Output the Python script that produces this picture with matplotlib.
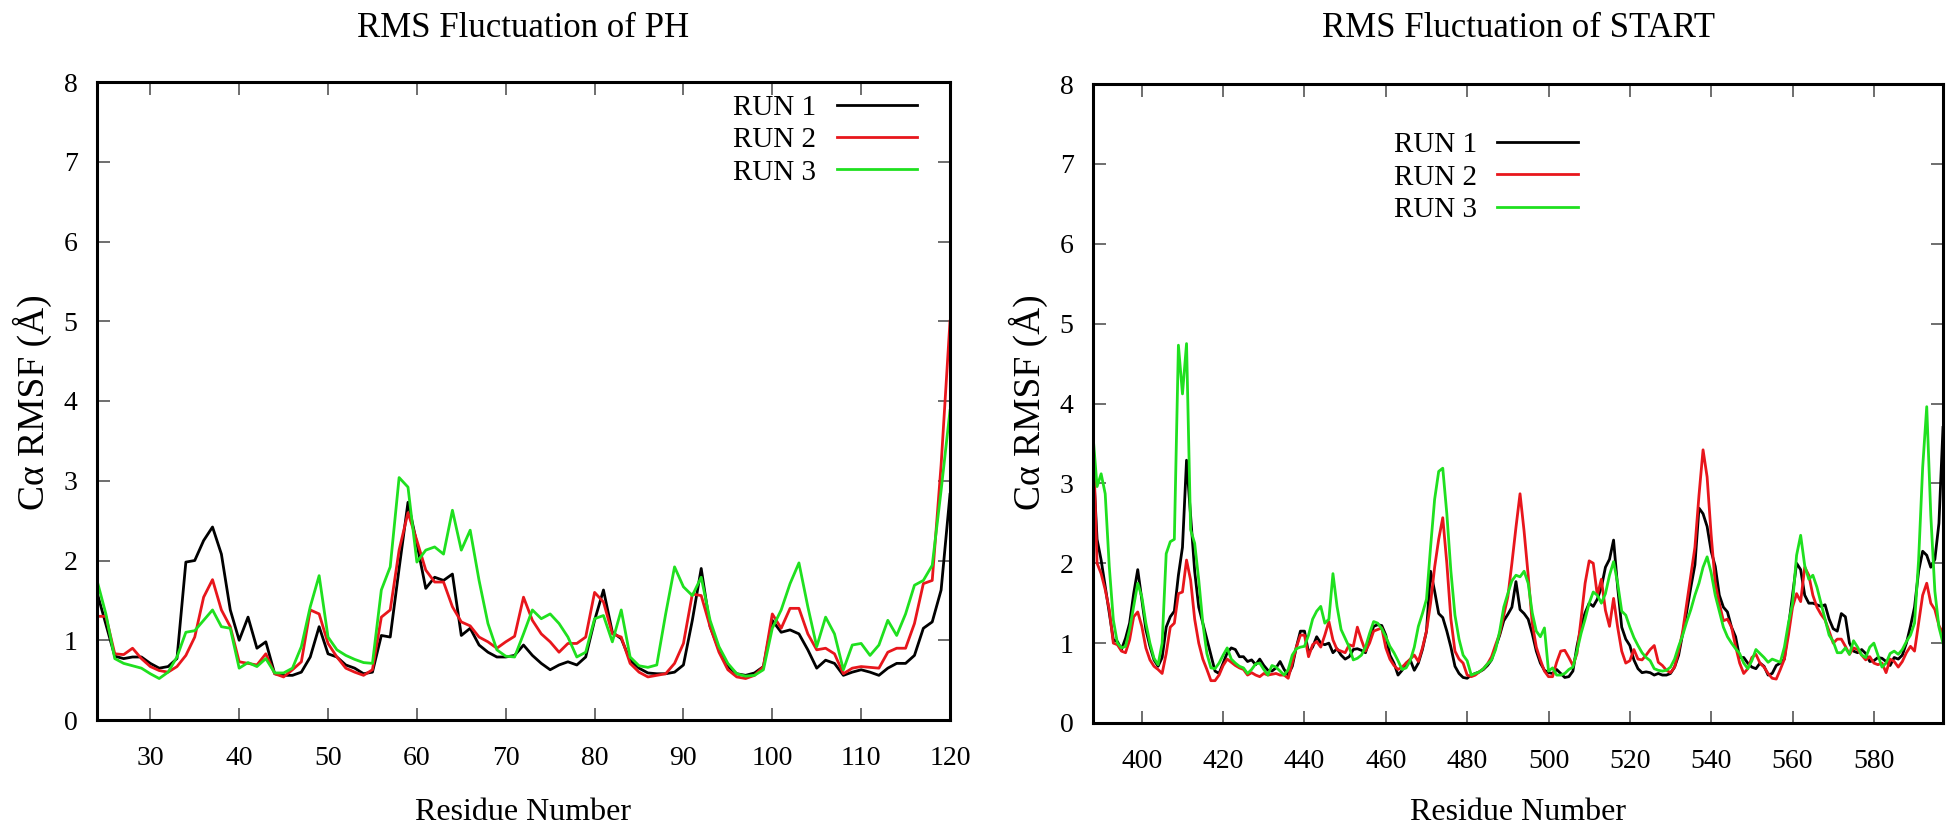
import numpy as np
import matplotlib
matplotlib.use("Agg")
import matplotlib.pyplot as plt

plt.rcParams['font.family'] = ['Liberation Serif', 'DejaVu Serif']

# ---- PH domain, residues 24..120 ----
ph_res = list(range(24, 121))
ph_run1 = [1.6, 1.2, 0.8, 0.77, 0.79, 0.79, 0.71, 0.65, 0.67, 0.77,
           1.98, 2.0, 2.25, 2.42, 2.08, 1.38, 1.0, 1.29, 0.9, 0.98,
           0.58, 0.56, 0.56, 0.6, 0.79, 1.17, 0.83, 0.79, 0.69, 0.65,
           0.58, 0.6, 1.06, 1.04, 1.9, 2.73, 2.21, 1.65, 1.79, 1.75,
           1.83, 1.06, 1.15, 0.94, 0.85, 0.79, 0.79, 0.81, 0.94, 0.81,
           0.71, 0.63, 0.69, 0.73, 0.69, 0.79, 1.25, 1.63, 1.1, 1.02,
           0.75, 0.65, 0.59, 0.58, 0.58, 0.6, 0.69, 1.25, 1.9, 1.17,
           0.88, 0.67, 0.58, 0.56, 0.59, 0.67, 1.25, 1.1, 1.13, 1.08,
           0.88, 0.65, 0.75, 0.71, 0.56, 0.6, 0.63, 0.6, 0.56, 0.65,
           0.71, 0.71, 0.81, 1.15, 1.23, 1.63, 2.83]
ph_run2 = [1.3, 1.3, 0.83, 0.82, 0.9, 0.77, 0.67, 0.62, 0.6, 0.67,
           0.81, 1.04, 1.54, 1.76, 1.38, 1.17, 0.73, 0.71, 0.69, 0.83,
           0.58, 0.54, 0.63, 0.73, 1.38, 1.33, 0.96, 0.79, 0.65, 0.6,
           0.56, 0.63, 1.29, 1.38, 2.13, 2.6, 2.25, 1.88, 1.73, 1.73,
           1.42, 1.23, 1.18, 1.04, 0.98, 0.9, 0.98, 1.05, 1.54, 1.25,
           1.08, 0.98, 0.85, 0.96, 0.96, 1.04, 1.6, 1.48, 1.08, 1.04,
           0.71, 0.6, 0.54, 0.56, 0.58, 0.71, 0.96, 1.58, 1.56, 1.17,
           0.85, 0.63, 0.54, 0.52, 0.56, 0.67, 1.33, 1.15, 1.4, 1.4,
           1.08, 0.88, 0.9, 0.83, 0.58, 0.65, 0.67, 0.66, 0.65, 0.85,
           0.9, 0.9, 1.21, 1.71, 1.75, 3.2, 5.0]
ph_run3 = [1.75, 1.33, 0.77, 0.71, 0.68, 0.65, 0.58, 0.52, 0.6, 0.79,
           1.1, 1.12, 1.25, 1.38, 1.17, 1.15, 0.65, 0.72, 0.67, 0.77,
           0.59, 0.59, 0.65, 0.92, 1.42, 1.81, 1.04, 0.88, 0.81, 0.76,
           0.72, 0.71, 1.63, 1.92, 3.04, 2.92, 1.98, 2.13, 2.17, 2.08,
           2.63, 2.13, 2.38, 1.75, 1.21, 0.88, 0.8, 0.79, 1.08, 1.38,
           1.27, 1.33, 1.21, 1.04, 0.79, 0.85, 1.27, 1.31, 0.98, 1.38,
           0.79, 0.68, 0.66, 0.69, 1.33, 1.92, 1.67, 1.56, 1.79, 1.25,
           0.92, 0.71, 0.58, 0.55, 0.56, 0.63, 1.15, 1.38, 1.71, 1.97,
           1.42, 0.92, 1.29, 1.08, 0.63, 0.94, 0.96, 0.81, 0.94, 1.25,
           1.06, 1.33, 1.69, 1.75, 1.94, 2.88, 3.88]

# ---- START domain, residues 388..597 ----
st_res = list(range(388, 598))
st_run1 = [3.3, 2.3, 2.04, 1.71, 1.38, 1.04, 1.02, 0.92, 1.06, 1.25, 1.62, 1.92, 1.54,
           1.17, 0.96, 0.79, 0.71, 0.82, 1.2, 1.33, 1.4, 1.85, 2.2, 3.29, 2.6, 1.9, 1.45, 1.25, 1.05, 0.85, 0.65, 0.62, 0.75,
           0.88, 0.94, 0.92, 0.83, 0.83, 0.77, 0.79, 0.73, 0.8, 0.72, 0.66, 0.65, 0.69, 0.77, 0.67, 0.6, 0.71, 0.95, 1.15, 1.15,
           0.88, 0.95, 1.08, 1.0, 0.98, 1.0, 0.88, 0.93, 0.85, 0.8, 0.83, 0.92, 0.93, 0.91, 0.88, 1.05, 1.21, 1.23, 1.22, 1.1,
           0.85, 0.75, 0.6, 0.66, 0.75, 0.79, 0.66, 0.75, 0.92, 1.15, 1.9, 1.65, 1.37, 1.32, 1.15, 0.95, 0.71, 0.62, 0.57, 0.56,
           0.6, 0.62, 0.64, 0.67, 0.72, 0.79, 0.95, 1.1, 1.28, 1.36, 1.45, 1.77, 1.42, 1.37, 1.3, 1.12, 0.9, 0.75, 0.66, 0.63,
           0.62, 0.67, 0.62, 0.57, 0.58, 0.65, 0.96, 1.2, 1.38, 1.5, 1.46, 1.55, 1.7, 1.95, 2.05, 2.29, 1.7, 1.2, 1.05, 0.97,
           0.79, 0.68, 0.63, 0.64, 0.63, 0.6, 0.62, 0.6, 0.6, 0.62, 0.7, 0.85, 1.12, 1.4, 1.7, 1.98, 2.69, 2.62, 2.46, 2.15,
           1.96, 1.6, 1.45, 1.39, 1.2, 1.08, 0.82, 0.82, 0.75, 0.7, 0.68, 0.75, 0.71, 0.6, 0.62, 0.72, 0.75, 0.8, 1.2, 1.6,
           2.0, 1.92, 1.6, 1.5, 1.5, 1.48, 1.46, 1.48, 1.3, 1.18, 1.15, 1.37, 1.33, 1.0, 0.9, 0.88, 0.92, 0.87, 0.77, 0.78,
           0.82, 0.81, 0.77, 0.72, 0.82, 0.8, 0.85, 1.0, 1.21, 1.45, 1.9, 2.15, 2.1, 1.95, 2.05, 2.5, 3.7]
st_run2 = [3.65, 2.0, 1.87, 1.67, 1.42, 1.0, 0.98, 0.9, 0.88, 1.04, 1.33, 1.39, 1.21,
           0.94, 0.79, 0.71, 0.67, 0.62, 0.87, 1.2, 1.25, 1.62, 1.64, 2.04, 1.79, 1.3, 1.0, 0.8, 0.67, 0.53, 0.53, 0.6, 0.72,
           0.8, 0.76, 0.72, 0.69, 0.67, 0.6, 0.63, 0.6, 0.58, 0.62, 0.6, 0.61, 0.62, 0.6, 0.6, 0.56, 0.75, 0.95, 1.1, 1.1,
           0.83, 0.98, 1.02, 0.95, 1.1, 1.27, 1.04, 0.92, 0.9, 0.88, 0.98, 0.96, 1.2, 1.04, 0.9, 1.0, 1.15, 1.17, 1.19, 0.94,
           0.8, 0.72, 0.67, 0.7, 0.75, 0.8, 0.85, 0.77, 0.94, 1.15, 1.5, 1.95, 2.3, 2.57, 2.0, 1.3, 0.9, 0.8, 0.75, 0.6,
           0.58, 0.6, 0.64, 0.68, 0.74, 0.83, 0.98, 1.12, 1.35, 1.58, 2.0, 2.45, 2.87, 2.4, 1.85, 1.25, 0.95, 0.79, 0.65, 0.58,
           0.58, 0.76, 0.9, 0.91, 0.82, 0.72, 0.87, 1.3, 1.75, 2.03, 2.0, 1.6, 1.8, 1.41, 1.21, 1.56, 1.2, 0.9, 0.75, 0.78,
           0.92, 0.8, 0.79, 0.85, 0.92, 0.97, 0.76, 0.72, 0.66, 0.63, 0.7, 0.9, 1.15, 1.5, 1.85, 2.2, 2.85, 3.42, 3.08, 2.35,
           1.75, 1.5, 1.28, 1.3, 1.2, 0.96, 0.75, 0.62, 0.68, 0.82, 0.86, 0.75, 0.7, 0.62, 0.56, 0.55, 0.67, 0.8, 1.1, 1.45,
           1.62, 1.52, 1.95, 1.85, 1.6, 1.45, 1.36, 1.29, 1.15, 1.0, 1.05, 1.05, 0.96, 0.86, 0.94, 0.92, 0.85, 0.79, 0.83, 0.75,
           0.73, 0.75, 0.63, 0.8, 0.77, 0.7, 0.77, 0.88, 0.96, 0.9, 1.25, 1.6, 1.75, 1.5, 1.42, 1.22, 1.12]
st_run3 = [3.6, 2.96, 3.12, 2.87, 1.96, 1.29, 1.0, 0.94, 0.96, 1.17, 1.46, 1.75, 1.58,
           1.25, 1.0, 0.81, 0.73, 1.0, 2.12, 2.27, 2.3, 4.73, 4.12, 4.75, 2.42, 2.25, 1.79, 1.25, 0.87, 0.69, 0.68, 0.75, 0.85,
           0.94, 0.8, 0.75, 0.71, 0.69, 0.62, 0.67, 0.74, 0.75, 0.67, 0.6, 0.72, 0.7, 0.65, 0.6, 0.67, 0.85, 0.93, 0.95, 0.96,
           1.1, 1.3, 1.4, 1.46, 1.25, 1.3, 1.87, 1.46, 1.17, 1.06, 0.95, 0.79, 0.81, 0.85, 0.95, 1.12, 1.27, 1.25, 1.18, 1.08,
           0.96, 0.88, 0.78, 0.67, 0.69, 0.78, 0.95, 1.21, 1.37, 1.55, 2.2, 2.8, 3.15, 3.19, 2.62, 1.9, 1.35, 1.05, 0.85, 0.78,
           0.6, 0.62, 0.64, 0.68, 0.74, 0.79, 0.92, 1.15, 1.45, 1.62, 1.78, 1.85, 1.83, 1.9, 1.75, 1.38, 1.15, 1.08, 1.19, 0.65,
           0.69, 0.6, 0.6, 0.62, 0.67, 0.7, 0.9, 1.12, 1.3, 1.5, 1.64, 1.6, 1.5, 1.62, 1.85, 2.02, 1.75, 1.4, 1.35, 1.2,
           1.07, 0.97, 0.88, 0.82, 0.78, 0.68, 0.66, 0.65, 0.66, 0.7, 0.8, 0.96, 1.1, 1.27, 1.42, 1.6, 1.75, 1.95, 2.08, 1.88,
           1.6, 1.4, 1.2, 1.08, 1.0, 0.93, 0.87, 0.75, 0.68, 0.78, 0.92, 0.87, 0.82, 0.76, 0.8, 0.78, 0.76, 0.95, 1.25, 1.5,
           2.1, 2.35, 1.97, 1.8, 1.85, 1.7, 1.5, 1.3, 1.1, 1.02, 0.88, 0.88, 0.94, 0.86, 1.03, 0.95, 0.85, 0.82, 0.95, 1.0,
           0.85, 0.7, 0.75, 0.87, 0.9, 0.86, 0.92, 1.02, 1.1, 1.25, 2.04, 3.2, 3.96, 2.6, 1.65, 1.2, 1.0]

run_names = ['RUN 1', 'RUN 2', 'RUN 3']
run_colors = ['#000000', '#e8161c', '#1fe01f']
ph_ticks = list(range(30, 121, 10))
st_ticks = list(range(400, 581, 20))


W, H = 1950, 831
fig = plt.figure(figsize=(W / 100, H / 100), dpi=100)


def px_axes(l, t, r, b):
    return [l / W, 1 - b / H, (r - l) / W, (b - t) / H]


def setup(ax, xlim, xticks, title, cx, ylab_x):
    ax.set_xlim(*xlim)
    ax.set_ylim(0, 8)
    ax.set_xticks(xticks)
    ax.set_yticks(range(0, 9))
    ax.tick_params(direction='in', length=9, width=1.2, color='#555555',
                   top=True, right=True, labelsize=20, pad=14)
    ax.tick_params(axis='x', pad=19)
    for s in ax.spines.values():
        s.set_linewidth(2.2)
    fig.text(cx / W, 1 - 37 / H, title, ha='center', va='baseline', fontsize=25)
    fig.text(cx / W, 1 - 820 / H, 'Residue Number', ha='center', va='baseline', fontsize=23)
    fig.text(ylab_x / W, 1 - 402 / H, 'Cα RMSF (Å)', rotation=90,
             ha='center', va='center', fontsize=27)


ax1 = fig.add_axes(px_axes(97, 82, 950, 720))
for y, c, n in zip([ph_run1, ph_run2, ph_run3], run_colors, run_names):
    ax1.plot(ph_res, y, color=c, lw=2.0, label=n)
setup(ax1, (24, 120), ph_ticks, 'RMS Fluctuation of PH', 523, 32)
ax1.legend(loc='upper right', bbox_to_anchor=(0.961, 0.98), frameon=False,
           markerfirst=False, fontsize=21, handlelength=2.75, handletextpad=0.7,
           labelspacing=0.2, borderpad=0, borderaxespad=0)

ax2 = fig.add_axes(px_axes(1093, 84, 1943, 723))
for y, c, n in zip([st_run1, st_run2, st_run3], run_colors, run_names):
    ax2.plot(st_res, y, color=c, lw=2.0, label=n)
setup(ax2, (388, 597), st_ticks, 'RMS Fluctuation of START', 1518, 1028)
ax2.legend(loc='upper right', bbox_to_anchor=(0.57, 0.925), frameon=False,
           markerfirst=False, fontsize=21, handlelength=2.75, handletextpad=0.7,
           labelspacing=0.2, borderpad=0, borderaxespad=0)

fig.savefig('out.png', dpi=100)
